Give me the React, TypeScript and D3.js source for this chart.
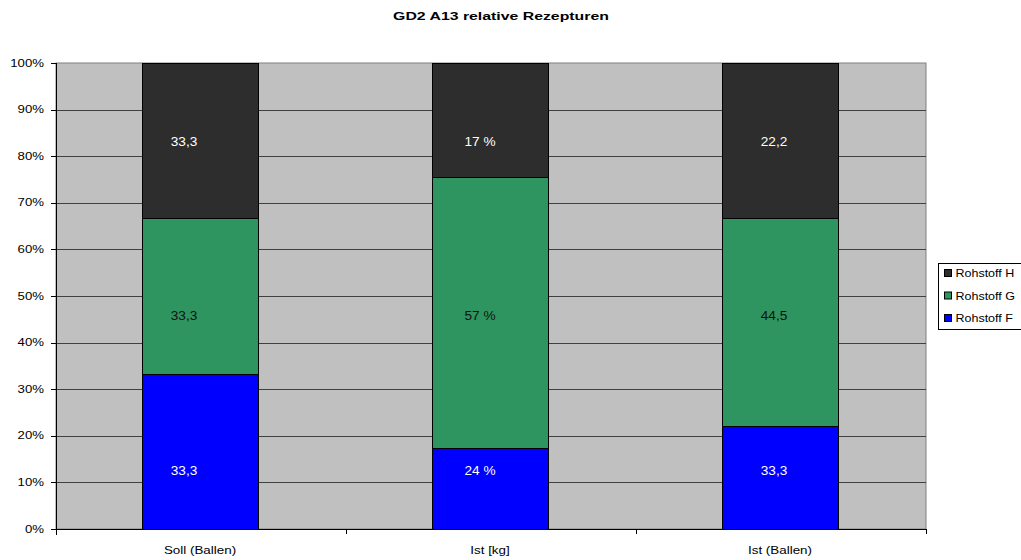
import React from "react";
import * as d3 from "d3";

// Recipe shares per category (percent of the batch)
const categories = ["Soll (Ballen)", "Ist [kg]", "Ist (Ballen)"];
const seriesNames = ["Rohstoff F", "Rohstoff G", "Rohstoff H"];
const rohstoffF = [33.3, 17, 22.2];
const rohstoffG = [33.3, 57, 44.5];
const rohstoffH = [33.3, 24, 33.3];
// Label suffix per category
const labelSuffix = ["", " %", ""];
const yTicks = [0, 10, 20, 30, 40, 50, 60, 70, 80, 90, 100];

const colors = ["#0000ff", "#2e9560", "#2d2d2d"];
const labelColors = ["#ffffff", "#111111", "#ffffff"];
// Text boxes sit at fixed heights inside each column (in % of the axis)
const labelLevels = [12.5, 45.8, 83.2];
// Horizontal offset of the text boxes from the column centre, per column
const labelShift = [-17, -11, -7];

const W = 1021;
const H = 560;
const margin = { left: 56, top: 63, right: 926, bottom: 529 };
const font = "'Liberation Sans', Arial, sans-serif";

// Text with a horizontally widened face (the chart's fonts run wide)
function WideText({
  x,
  y,
  sx,
  anchor = "start",
  size,
  weight = "normal",
  fill = "#000",
  children,
}: {
  x: number;
  y: number;
  sx: number;
  anchor?: "start" | "middle" | "end";
  size: number;
  weight?: string;
  fill?: string;
  children: React.ReactNode;
}) {
  return (
    <text
      transform={`translate(${x},${y}) scale(${sx},1)`}
      textAnchor={anchor}
      fontSize={size}
      fontWeight={weight}
      fill={fill}
      dy="0.35em"
    >
      {children}
    </text>
  );
}

export default function App() {
  const seriesValues = [rohstoffF, rohstoffG, rohstoffH];
  const rows = categories.map((c, i) => {
    const total = rohstoffF[i] + rohstoffG[i] + rohstoffH[i];
    return {
      cat: c,
      F: (rohstoffF[i] / total) * 100,
      G: (rohstoffG[i] / total) * 100,
      H: (rohstoffH[i] / total) * 100,
    };
  });
  const stack = d3.stack<any>().keys(["F", "G", "H"])(rows);

  const x = d3
    .scaleBand()
    .domain(categories)
    .range([margin.left, margin.right])
    .paddingInner(0.6)
    .paddingOuter(0.3);
  const y = d3.scaleLinear().domain([0, 100]).range([margin.bottom, margin.top]);
  const bw = x.bandwidth();
  const step = (margin.right - margin.left) / categories.length;

  const fmt = (v: number) => d3.format(".1f")(v).replace(".", ",").replace(/,0$/, "");

  return (
    <svg
      width={W}
      height={H}
      style={{ position: "absolute", left: 0, top: 0, background: "#fff" }}
      fontFamily={font}
    >
      <WideText x={501} y={16} sx={1.44} anchor="middle" size={11} weight="bold">
        GD2 A13 relative Rezepturen
      </WideText>

      {/* plot area */}
      <rect
        x={margin.left}
        y={margin.top}
        width={margin.right - margin.left}
        height={margin.bottom - margin.top}
        fill="#c0c0c0"
        stroke="#808080"
        strokeWidth={1}
      />
      {yTicks.slice(1, -1).map((t) => (
        <line
          key={t}
          x1={margin.left}
          x2={margin.right}
          y1={Math.round(y(t)) + 0.5}
          y2={Math.round(y(t)) + 0.5}
          stroke="#404040"
          strokeWidth={1}
        />
      ))}

      {/* stacked bars */}
      {stack.map((layer, si) =>
        layer.map((d, ci) => (
          <rect
            key={`${si}-${ci}`}
            x={Math.floor(x(categories[ci])!) - 0.5}
            y={Math.round(y(d[1])) + 0.5}
            width={Math.round(bw)}
            height={Math.round(y(d[0])) - Math.round(y(d[1]))}
            fill={colors[si]}
            stroke="#000"
            strokeWidth={1}
          />
        ))
      )}

      {/* segment labels (text boxes, series in reverse order) */}
      {seriesValues.map((_, si) =>
        categories.map((c, ci) => {
          const src = seriesValues[seriesValues.length - 1 - si][ci];
          return (
            <WideText
              key={`l${si}-${ci}`}
              x={x(c)! + bw / 2 + labelShift[ci]}
              y={y(labelLevels[si])}
              sx={1.05}
              anchor="middle"
              size={13}
              fill={labelColors[si]}
            >
              {fmt(src) + labelSuffix[ci]}
            </WideText>
          );
        })
      )}

      {/* y axis */}
      <line x1={margin.left + 0.5} x2={margin.left + 0.5} y1={margin.top} y2={margin.bottom + 6} stroke="#000" />
      {yTicks.map((t) => (
        <g key={t}>
          <line
            x1={margin.left - 5}
            x2={margin.left}
            y1={Math.round(y(t)) + 0.5}
            y2={Math.round(y(t)) + 0.5}
            stroke="#000"
          />
          <WideText x={44} y={y(t)} sx={1.32} anchor="end" size={10}>
            {t}%
          </WideText>
        </g>
      ))}

      {/* x axis */}
      <line x1={margin.left} x2={margin.right} y1={margin.bottom + 0.5} y2={margin.bottom + 0.5} stroke="#000" />
      {d3.range(categories.length + 1).map((i) => (
        <line
          key={i}
          x1={Math.round(margin.left + i * step) + 0.5}
          x2={Math.round(margin.left + i * step) + 0.5}
          y1={margin.bottom}
          y2={margin.bottom + 5}
          stroke="#000"
        />
      ))}
      {categories.map((c) => (
        <WideText key={c} x={x(c)! + bw / 2 - 1} y={550} sx={1.34} anchor="middle" size={10}>
          {c}
        </WideText>
      ))}

      {/* legend */}
      <rect x={938.5} y={263.5} width={100} height={66} fill="#fff" stroke="#000" />
      {[2, 1, 0].map((si, i) => (
        <g key={si}>
          <rect x={944.5} y={269.5 + i * 22.5} width={7} height={7} fill={colors[si]} stroke="#000" />
          <WideText x={955.5} y={273.5 + i * 22.5} sx={1.19} size={10.5}>
            {seriesNames[si]}
          </WideText>
        </g>
      ))}
    </svg>
  );
}
